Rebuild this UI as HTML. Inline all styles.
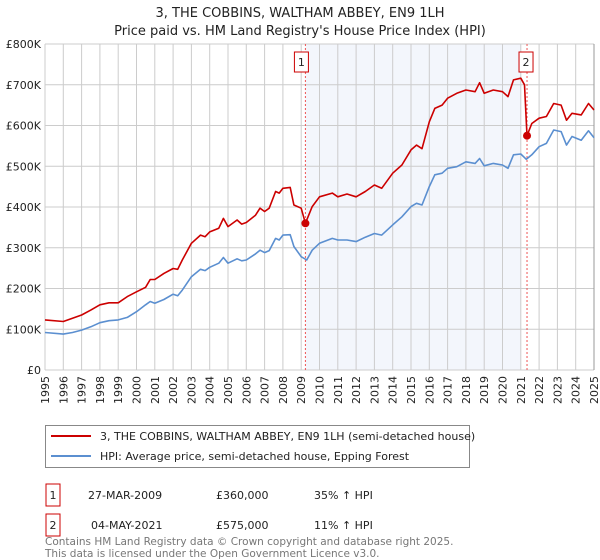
<!DOCTYPE html>
<html><head><meta charset="utf-8"><style>
body{margin:0;background:#fff;font-family:"Liberation Sans","DejaVu Sans",sans-serif;}
#wrap{position:relative;width:600px;height:560px;overflow:hidden}
svg text{font-family:"DejaVu Sans","Liberation Sans",sans-serif}
</style></head><body><div id="wrap">
<svg id="svg" width="600" height="560">
<text x="300" y="17" text-anchor="middle" font-size="13" fill="#222">3, THE COBBINS, WALTHAM ABBEY, EN9 1LH</text>
<text x="300" y="35" text-anchor="middle" font-size="13" fill="#222">Price paid vs. HM Land Registry's House Price Index (HPI)</text>
<g id="plot"></g>
<g>
<rect x="45.5" y="425.5" width="424" height="42" fill="#fff" stroke="#888"/>
<line x1="51" y1="436" x2="91" y2="436" stroke="#cc0000" stroke-width="2"/>
<text x="100" y="440" font-size="11" fill="#222">3, THE COBBINS, WALTHAM ABBEY, EN9 1LH (semi-detached house)</text>
<line x1="51" y1="456" x2="91" y2="456" stroke="#5b8fd0" stroke-width="2"/>
<text x="100" y="460" font-size="11" fill="#222">HPI: Average price, semi-detached house, Epping Forest</text>
</g>
<g font-size="11" fill="#222">
<rect x="46" y="484" width="14" height="22" fill="#fff" stroke="#cc0000"/>
<text x="53" y="499" text-anchor="middle">1</text>
<text x="88" y="499">27-MAR-2009</text>
<text x="216" y="499">£360,000</text>
<text x="314" y="499">35% ↑ HPI</text>
<rect x="46" y="514" width="14" height="22" fill="#fff" stroke="#cc0000"/>
<text x="53" y="529" text-anchor="middle">2</text>
<text x="91" y="529">04-MAY-2021</text>
<text x="216" y="529">£575,000</text>
<text x="314" y="529">11% ↑ HPI</text>
</g>
<text x="45" y="545" font-size="10.5" fill="#777">Contains HM Land Registry data © Crown copyright and database right 2025.</text>
<text x="45" y="557" font-size="10.5" fill="#777">This data is licensed under the Open Government Licence v3.0.</text>
</svg></div>
<script>
const yTicks=[0,100,200,300,400,500,600,700,800];
const yTickLabels=["£0","£100K","£200K","£300K","£400K","£500K","£600K","£700K","£800K"];
const years=[1995,1996,1997,1998,1999,2000,2001,2002,2003,2004,2005,2006,2007,2008,2009,2010,2011,2012,2013,2014,2015,2016,2017,2018,2019,2020,2021,2022,2023,2024,2025];
const hpiT=[1995,1996,1996.5,1997,1997.5,1998,1998.5,1999,1999.5,2000,2000.5,2000.75,2001,2001.5,2002,2002.25,2002.5,2003,2003.5,2003.75,2004,2004.5,2004.75,2005,2005.5,2005.75,2006,2006.5,2006.75,2007,2007.25,2007.6,2007.8,2008,2008.4,2008.6,2009,2009.3,2009.6,2010,2010.7,2011,2011.5,2012,2012.5,2013,2013.4,2014,2014.5,2015,2015.3,2015.6,2016,2016.3,2016.7,2017,2017.5,2018,2018.5,2018.75,2019,2019.5,2020,2020.3,2020.6,2021,2021.3,2021.6,2022,2022.4,2022.8,2023.2,2023.5,2023.8,2024.3,2024.7,2025];
const hpiV=[92,88,92,98,106,116,121,123,129,143,160,168,164,173,186,182,196,229,247,244,252,262,276,262,273,268,270,285,294,288,293,323,319,331,332,303,278,270,294,311,323,319,319,315,326,335,331,356,376,401,409,405,450,479,483,495,499,511,507,519,501,507,503,495,528,530,517,528,548,556,589,585,552,573,564,587,570];
const priceT=[1995,1996,1996.5,1997,1997.5,1998,1998.5,1999,1999.5,2000,2000.5,2000.75,2001,2001.5,2002,2002.25,2002.5,2003,2003.5,2003.75,2004,2004.5,2004.75,2005,2005.5,2005.75,2006,2006.5,2006.75,2007,2007.25,2007.6,2007.8,2008,2008.4,2008.6,2009,2009.23,2009.6,2010,2010.7,2011,2011.5,2012,2012.5,2013,2013.4,2014,2014.5,2015,2015.3,2015.6,2016,2016.3,2016.7,2017,2017.5,2018,2018.5,2018.75,2019,2019.5,2020,2020.3,2020.6,2021,2021.2,2021.34,2021.6,2022,2022.4,2022.8,2023.2,2023.5,2023.8,2024.3,2024.7,2025];
const priceV=[123,119,127,135,147,160,165,165,180,192,203,222,222,237,249,247,270,311,331,327,339,348,372,352,368,358,362,380,397,389,397,438,434,446,448,405,397,360,401,425,434,425,432,425,438,454,446,483,503,540,552,543,609,642,650,667,679,687,683,705,679,687,683,671,712,716,700,575,605,618,622,654,650,613,630,626,654,638];
const saleT=[2009.23,2021.34];
const saleV=[360,575];
const saleLabels=["1","2"];
const shadeRange=[2009.23,2021.0];

const X0=45,X1=594,Y0=370,Y1=44;
const x=t=>X0+(t-1995)/30*(X1-X0);
const y=v=>Y0-v/800*(Y0-Y1);
const NS="http://www.w3.org/2000/svg";
const g=document.getElementById('plot');
function mk(tag,attrs,parent){const e=document.createElementNS(NS,tag);for(const k in attrs)e.setAttribute(k,attrs[k]);(parent||g).appendChild(e);return e;}
const shade=mk('rect',{x:x(shadeRange[0]),y:Y1,width:x(shadeRange[1])-x(shadeRange[0]),height:Y0-Y1,fill:'#eef2fb',opacity:0.7});


years.forEach((yr,i)=>{
  const l=mk('line',{x1:x(yr),x2:x(yr),y1:Y1,y2:Y0,stroke:'#ccc','stroke-width':1});
  
  
  const t=mk('text',{x:0,y:0,'font-size':11,fill:'#222','text-anchor':'end',transform:`translate(${x(yr)+4},${Y0+6}) rotate(-90)`});
  t.textContent=yr;
  
  
});
yTicks.forEach((v,i)=>{
  const l=mk('line',{x1:X0,x2:X1,y1:y(v),y2:y(v),stroke:'#ccc','stroke-width':1});
  
  
  const t=mk('text',{x:X0-4,y:y(v)+4,'font-size':11,fill:'#222','text-anchor':'end'});
  t.textContent=yTickLabels[i];
  
  
});
const ax=mk('line',{x1:X1,x2:X1,y1:Y1,y2:Y0,stroke:'#999','stroke-width':1});


saleT.forEach((t,i)=>{
  const l=mk('line',{x1:x(t),x2:x(t),y1:Y1,y2:Y0,stroke:'#e55','stroke-width':1,'stroke-dasharray':'2,2'});
  
  
});
function path(T,V,color,name){
  const d=T.map((t,i)=>(i?'L':'M')+x(t).toFixed(1)+','+y(V[i]).toFixed(1)).join('');
  const p=mk('path',{d:d,fill:'none',stroke:color,'stroke-width':1.6,'stroke-linejoin':'round'});
  
  
}
path(hpiT,hpiV,'#5b8fd0','hpi-line');
path(priceT,priceV,'#cc0000','price-line');
saleT.forEach((t,i)=>{
  const c=mk('circle',{cx:x(t),cy:y(saleV[i]),r:4,fill:'#cc0000'});
  
  
  const bx=x(t)-(i===0?11:8);
  const r=mk('rect',{x:bx,y:52,width:14,height:20,fill:'#fff',stroke:'#cc0000'});
  
  
  const tx=mk('text',{x:bx+7,y:66,'font-size':11,fill:'#222','text-anchor':'middle'});
  tx.textContent=saleLabels[i];
  
  
});
</script></body></html>
